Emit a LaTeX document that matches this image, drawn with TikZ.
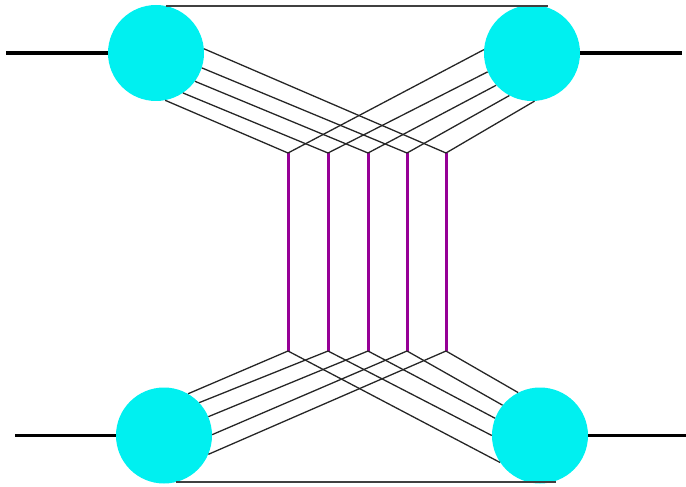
\documentclass[tikz,border=0pt]{standalone}
\begin{document}
\begin{tikzpicture}[x=1pt,y=-1pt,
  ball/.style={circle,fill=ballcyan,inner sep=0pt,minimum size=96pt},
  leg/.style={line width=3.4pt,black},
  rail/.style={line width=1.4pt,black!75},
  strand/.style={line width=1.3pt,black!85},
  rung/.style={line width=3pt,rungpurple}]
\definecolor{ballcyan}{RGB}{0,240,240}
\definecolor{rungpurple}{RGB}{150,0,150}
\useasboundingbox (0,0) rectangle (686,487);
% balls
\node[ball] (tl) at (156,53) {};
\node[ball] (tr) at (532,53) {};
\node[ball] (bl) at (164,435.5) {};
\node[ball] (br) at (540,435.5) {};
% purple rung ends
\foreach \i/\x in {1/288,2/328,3/368,4/407,5/446}{
  \coordinate (p\i) at (\x,153);
  \coordinate (q\i) at (\x,351);
}
\foreach \i in {1,...,5}{ \draw[rung] (p\i) -- (q\i); }
% outer legs
\coordinate (la) at (6,53);
\coordinate (ra) at (682,53);
\coordinate (lb) at (15,435.5);
\coordinate (rb) at (686,435.5);
\draw[leg] (la) -- (tl.west);
\draw[leg] (tr.east) -- (ra);
\draw[leg] (lb) -- (bl.west);
\draw[leg] (br.east) -- (rb);
% rails
\draw[rail] (tl.78) -- (tl.78 -| tr.70);
\draw[rail] (bl.-75) -- (bl.-75 -| br.-70);
% strands top-left
\draw[strand] (tl.5) -- (p5);
\draw[strand] (tl.-18) -- (p4);
\draw[strand] (tl.-36) -- (p3);
\draw[strand] (tl.-56) -- (p2);
\draw[strand] (tl.-79) -- (p1);
% strands top-right
\draw[strand] (tr.176) -- (p1);
\draw[strand] (tr.203) -- (p2);
\draw[strand] (tr.222) -- (p3);
\draw[strand] (tr.242) -- (p4);
\draw[strand] (tr.273) -- (p5);
% strands bottom-left
\draw[strand] (bl.60) -- (q1);
\draw[strand] (bl.43) -- (q2);
\draw[strand] (bl.23) -- (q3);
\draw[strand] (bl.1) -- (q4);
\draw[strand] (bl.-23) -- (q5);
% strands bottom-right
\draw[strand] (br.117) -- (q5);
\draw[strand] (br.141) -- (q4);
\draw[strand] (br.159) -- (q3);
\draw[strand] (br.180) -- (q2);
\draw[strand] (br.214) -- (q1);
\end{tikzpicture}
\end{document}
